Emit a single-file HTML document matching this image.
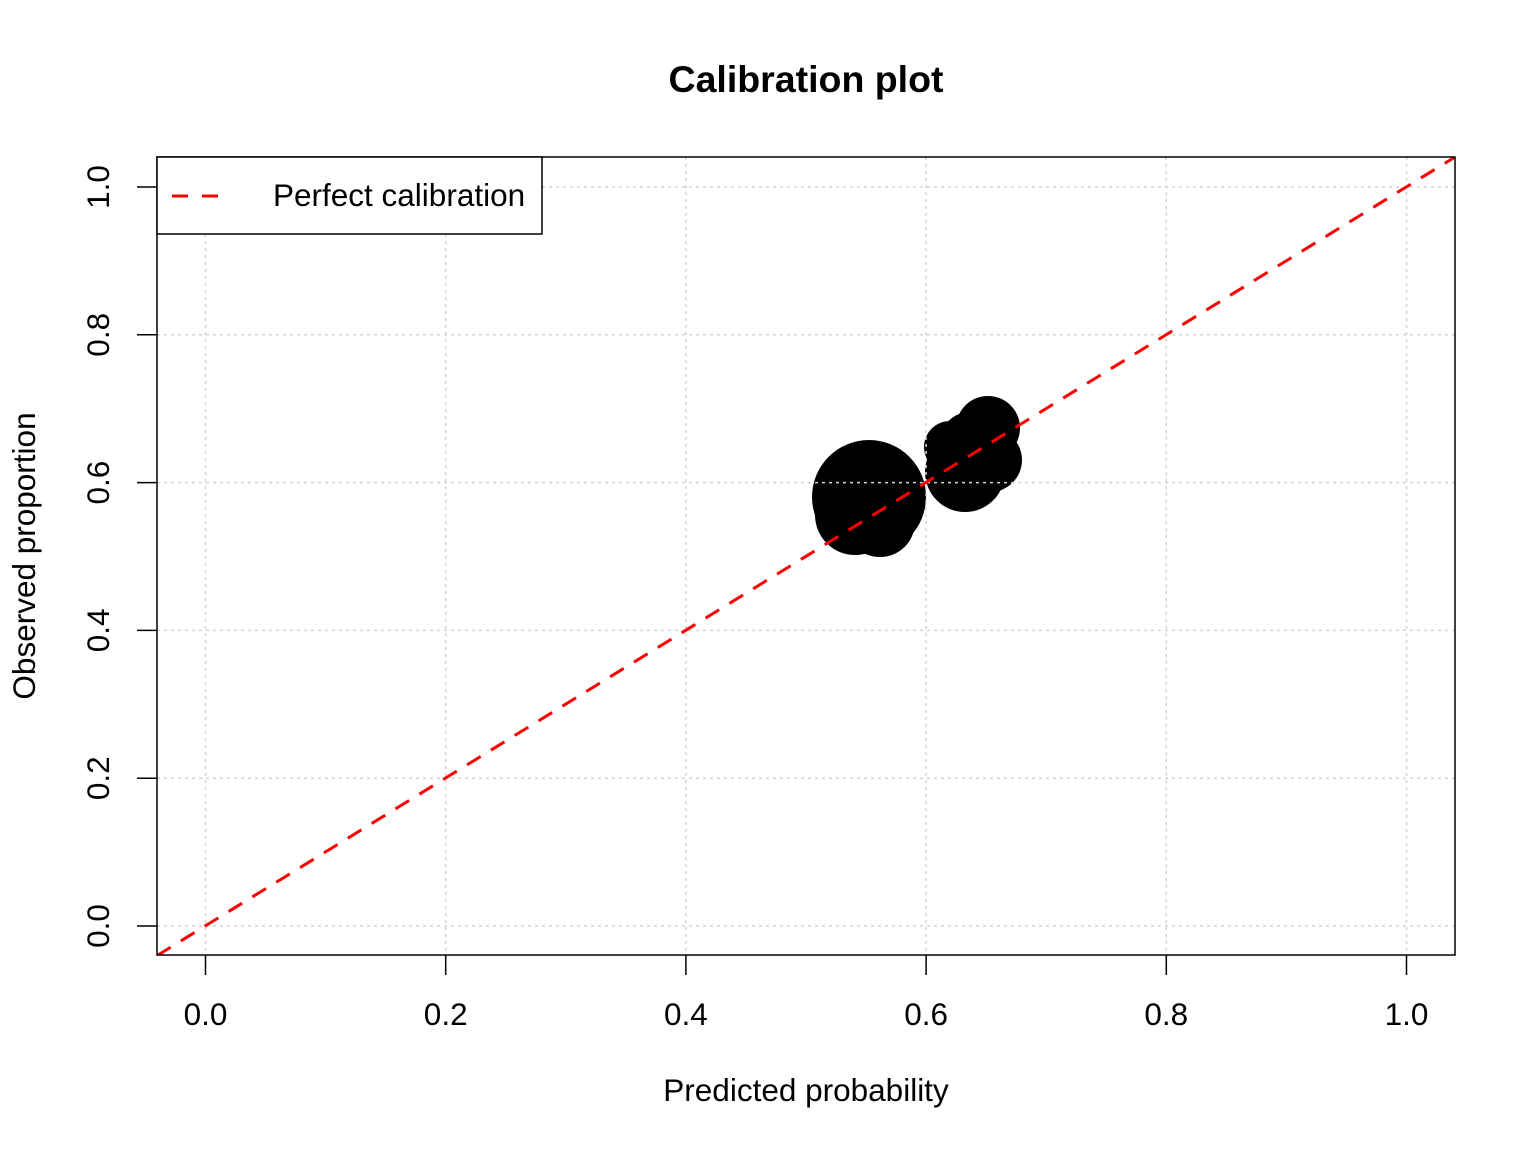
<!DOCTYPE html>
<html><head><meta charset="utf-8"><style>body{margin:0;background:#fff}svg{display:block}</style></head><body>
<svg width="1536" height="1152" xmlns="http://www.w3.org/2000/svg" font-family="Liberation Sans, Arial, sans-serif">
<defs><clipPath id="c"><rect x="157" y="157" width="1298" height="798"/></clipPath></defs>
<g clip-path="url(#c)">
<g fill="#000">
<circle cx="869" cy="497" r="57"/><circle cx="855" cy="515" r="40"/><circle cx="880" cy="522" r="35"/>
<circle cx="988" cy="428" r="32"/><circle cx="990" cy="460" r="32"/><circle cx="965" cy="472" r="40"/><circle cx="950" cy="447" r="26"/><circle cx="970" cy="442" r="30"/>
</g>
<g stroke="#d3d3d3" stroke-width="1.5" stroke-dasharray="3,4" fill="none">
<line x1="205.5" y1="157" x2="205.5" y2="955"/><line x1="445.7" y1="157" x2="445.7" y2="955"/><line x1="685.9" y1="157" x2="685.9" y2="955"/><line x1="926.1" y1="157" x2="926.1" y2="955"/><line x1="1166.3" y1="157" x2="1166.3" y2="955"/><line x1="1406.5" y1="157" x2="1406.5" y2="955"/>
<line x1="157" y1="926" x2="1455" y2="926"/><line x1="157" y1="778.2" x2="1455" y2="778.2"/><line x1="157" y1="630.4" x2="1455" y2="630.4"/><line x1="157" y1="482.6" x2="1455" y2="482.6"/><line x1="157" y1="334.8" x2="1455" y2="334.8"/><line x1="157" y1="187" x2="1455" y2="187"/>
</g>
<line x1="157" y1="955.6" x2="1455" y2="157" stroke="#f00" stroke-width="3" stroke-dasharray="16,12"/>
</g>
<rect x="157" y="157" width="1298" height="798" fill="none" stroke="#000" stroke-width="1.5"/>
<rect x="157" y="157" width="385" height="77" fill="#fff" stroke="#000" stroke-width="1.5"/>
<line x1="172" y1="196" x2="220" y2="196" stroke="#f00" stroke-width="3" stroke-dasharray="16,14"/>
<text x="273" y="206" font-size="31.5">Perfect calibration</text>
<g stroke="#000" stroke-width="1.5">
<line x1="205.5" y1="955" x2="205.5" y2="975"/><line x1="445.7" y1="955" x2="445.7" y2="975"/><line x1="685.9" y1="955" x2="685.9" y2="975"/><line x1="926.1" y1="955" x2="926.1" y2="975"/><line x1="1166.3" y1="955" x2="1166.3" y2="975"/><line x1="1406.5" y1="955" x2="1406.5" y2="975"/>
<line x1="157" y1="926" x2="137" y2="926"/><line x1="157" y1="778.2" x2="137" y2="778.2"/><line x1="157" y1="630.4" x2="137" y2="630.4"/><line x1="157" y1="482.6" x2="137" y2="482.6"/><line x1="157" y1="334.8" x2="137" y2="334.8"/><line x1="157" y1="187" x2="137" y2="187"/>
</g>
<g font-size="31.5" text-anchor="middle">
<text x="205.5" y="1025">0.0</text><text x="445.7" y="1025">0.2</text><text x="685.9" y="1025">0.4</text><text x="926.1" y="1025">0.6</text><text x="1166.3" y="1025">0.8</text><text x="1406.5" y="1025">1.0</text>
<text transform="translate(109,926) rotate(-90)">0.0</text><text transform="translate(109,778.2) rotate(-90)">0.2</text><text transform="translate(109,630.4) rotate(-90)">0.4</text><text transform="translate(109,482.6) rotate(-90)">0.6</text><text transform="translate(109,334.8) rotate(-90)">0.8</text><text transform="translate(109,187) rotate(-90)">1.0</text>
<text x="806" y="1101">Predicted probability</text>
<text transform="translate(35,556) rotate(-90)">Observed proportion</text>
<text x="806" y="92" font-size="37.5" font-weight="bold">Calibration plot</text>
</g>
</svg>
</body></html>
